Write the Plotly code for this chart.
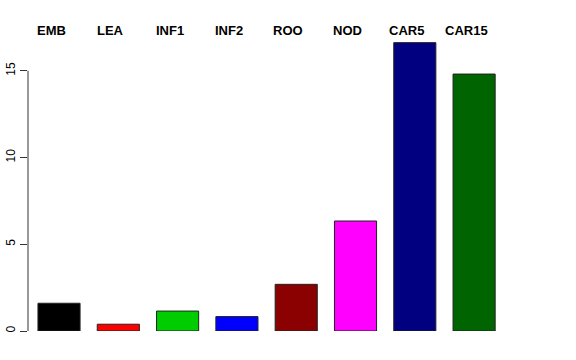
import plotly.graph_objects as go

categories = ["EMB", "LEA", "INF1", "INF2", "ROO", "NOD", "CAR5", "CAR15"]
values = [1.60, 0.39, 1.15, 0.83, 2.69, 6.34, 16.62, 14.81]
colors = ["#000000", "#FF0000", "#00CD00", "#0000FF", "#8B0000", "#FF00FF", "#000080", "#006400"]
yticks = [0, 5, 10, 15]

xpos = list(range(len(categories)))

fig = go.Figure()
fig.add_trace(go.Bar(
    x=xpos, y=values,
    marker=dict(color=colors, line=dict(color="#222222", width=1)),
    width=0.71, showlegend=False, hoverinfo="skip",
))

for i, c in enumerate(categories):
    fig.add_annotation(x=i, y=17.33, xref="x", yref="y", text="<b>%s</b>" % c,
                       showarrow=False, font=dict(size=13, color="black",
                       family="Liberation Sans, Arial, sans-serif"),
                       xanchor="center", yanchor="middle", xshift=-8)

fig.add_shape(type="line", xref="paper", yref="y", x0=0, x1=0, y0=0, y1=15,
              line=dict(color="#333333", width=1))

plot_w = 576 - 28 - 30
fig.update_layout(
    width=576, height=360,
    margin=dict(l=28, r=30, t=20, b=29),
    paper_bgcolor="white", plot_bgcolor="white",
    font=dict(family="Liberation Sans, Arial, sans-serif", size=12, color="black"),
    xaxis=dict(range=[-0.523, -0.523 + plot_w / 59.3], visible=False, fixedrange=True),
    yaxis=dict(range=[0, 311 / 17.35], tickvals=yticks, ticktext=[str(v) for v in yticks],
               ticks="outside", ticklen=7, tickcolor="#333333", tickwidth=1,
               tickangle=-90, showgrid=False, zeroline=False, showline=False,
               automargin=False, fixedrange=True, tickfont=dict(size=12, color="black")),
)

fig.write_html("out.html", config={"displayModeBar": False, "staticPlot": True},
               post_script="document.body.style.margin='0';document.body.style.overflow='hidden';")
